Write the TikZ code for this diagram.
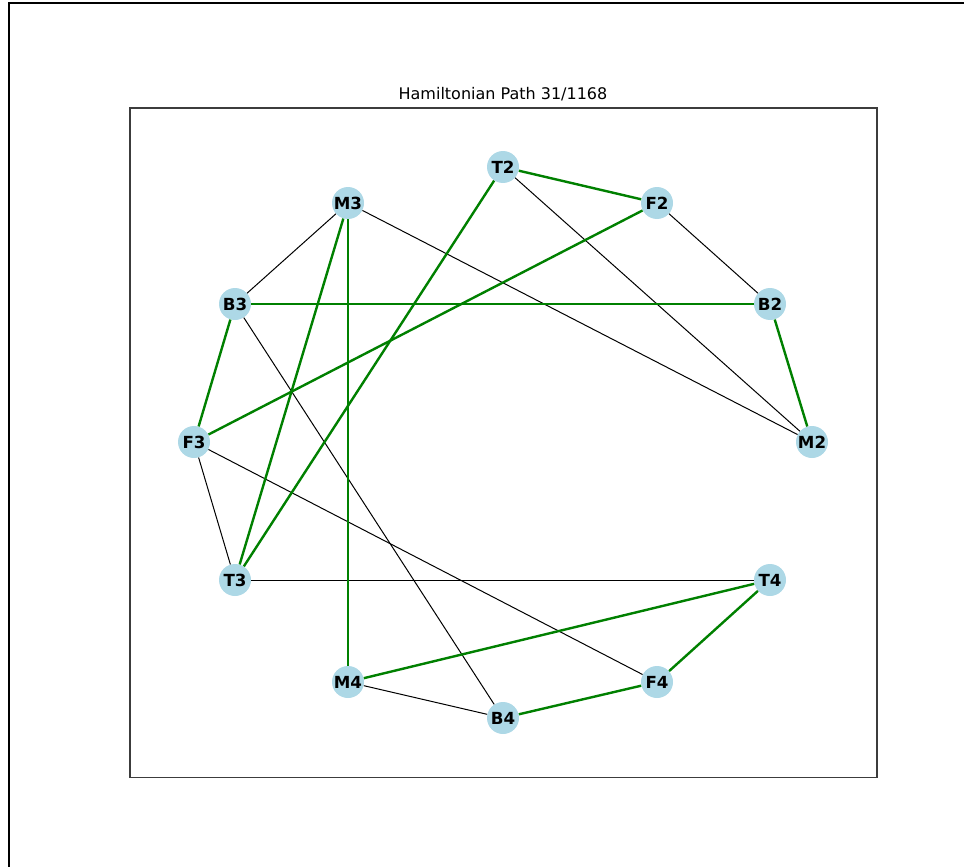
\documentclass[tikz,border=0pt]{standalone}
\usepackage{fontspec}
\setmainfont{DejaVu Sans}
\definecolor{nodeblue}{RGB}{173,216,230}
\definecolor{pathgreen}{RGB}{0,128,0}
\definecolor{axgray}{RGB}{60,60,60}
\begin{document}
\begin{tikzpicture}[x=0.75pt,y=-0.75pt,
  vtx/.style={circle,fill=nodeblue,minimum size=24pt,inner sep=0pt,font=\bfseries\fontsize{12.5}{12.5}\selectfont},
  pathedge/.style={draw=pathgreen,line width=1.8pt},
  otheredge/.style={draw=black,line width=0.75pt}]
\useasboundingbox (0,0) rectangle (964,867);
% outer frame
\draw[line width=1.5pt] (8.5,867) -- (8.5,3.5) -- (964,3.5);
% axes box
\draw[axgray,line width=0.8pt] (130,108) rectangle (877,777.5);
\node[font=\fontsize{12}{12}\selectfont] (title) at (503,94) {Hamiltonian Path 31/1168};
% nodes
\node[vtx] (T2) at (503,167) {T2};
\node[vtx] (F2) at (657,203) {F2};
\node[vtx] (B2) at (770,304) {B2};
\node[vtx] (M2) at (812,442) {M2};
\node[vtx] (T4) at (770,580) {T4};
\node[vtx] (F4) at (657,682) {F4};
\node[vtx] (B4) at (503,718) {B4};
\node[vtx] (M4) at (348,682) {M4};
\node[vtx] (T3) at (235,580) {T3};
\node[vtx] (F3) at (194,442) {F3};
\node[vtx] (B3) at (235,304) {B3};
\node[vtx] (M3) at (348,203) {M3};
% other edges
\draw[otheredge] (M3) -- (B3);
\draw[otheredge] (M3) -- (M2);
\draw[otheredge] (T2) -- (M2);
\draw[otheredge] (F2) -- (B2);
\draw[otheredge] (B3) -- (B4);
\draw[otheredge] (F3) -- (T3);
\draw[otheredge] (F3) -- (F4);
\draw[otheredge] (T3) -- (T4);
\draw[otheredge] (M4) -- (B4);
% path edges
\draw[pathedge] (B4) -- (F4);
\draw[pathedge] (F4) -- (T4);
\draw[pathedge] (T4) -- (M4);
\draw[pathedge] (M4) -- (M3);
\draw[pathedge] (M3) -- (T3);
\draw[pathedge] (T3) -- (T2);
\draw[pathedge] (T2) -- (F2);
\draw[pathedge] (F2) -- (F3);
\draw[pathedge] (F3) -- (B3);
\draw[pathedge] (B3) -- (B2);
\draw[pathedge] (B2) -- (M2);
\end{tikzpicture}
\end{document}
